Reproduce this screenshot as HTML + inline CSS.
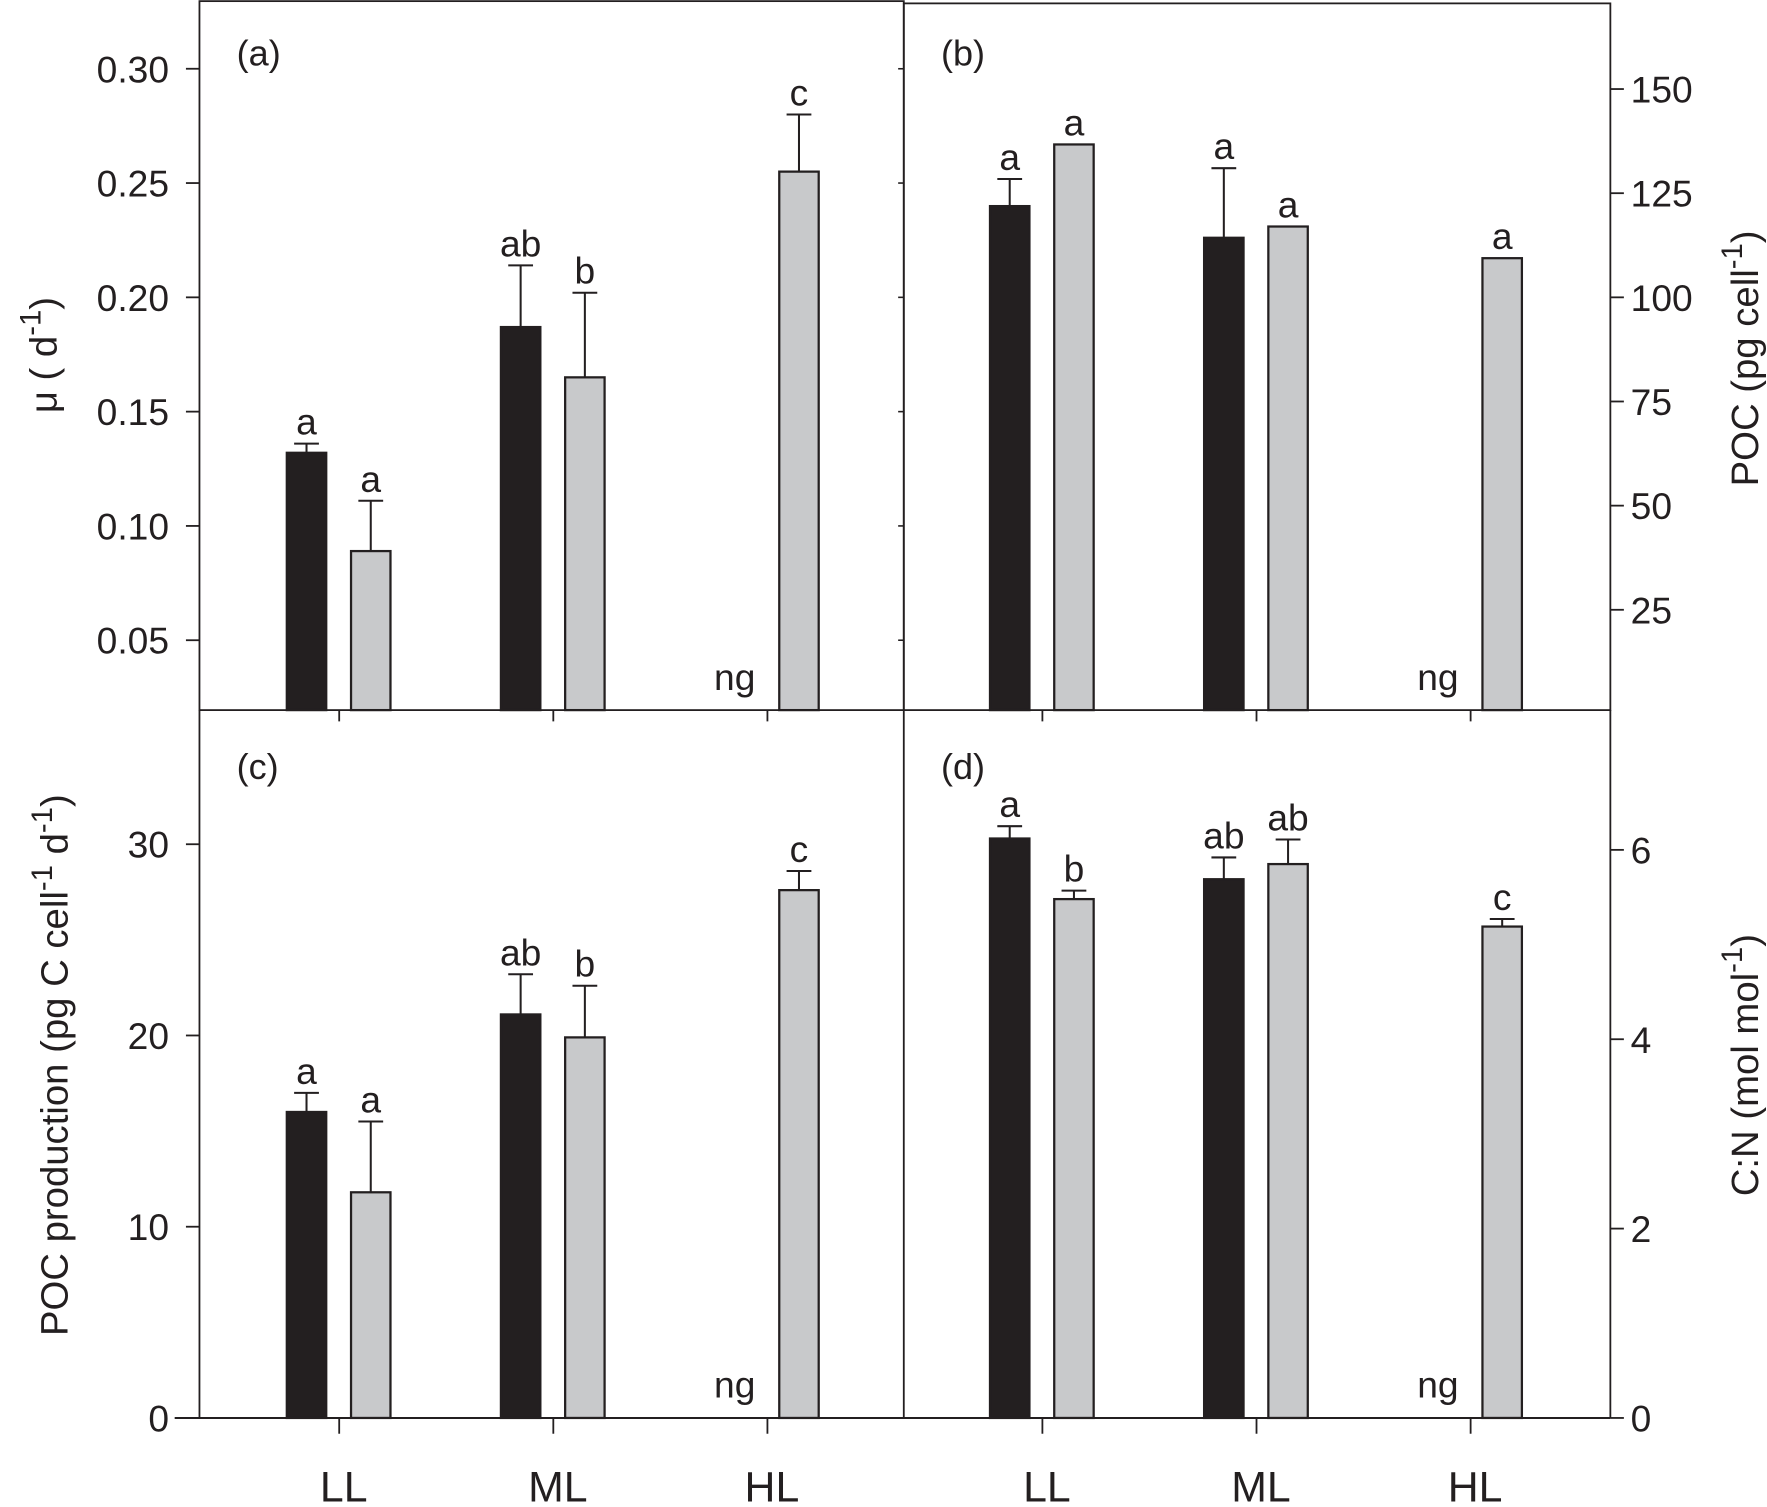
<!DOCTYPE html>
<html><head><meta charset="utf-8"><style>
html,body{margin:0;padding:0;background:#fff;}
svg{display:block;}
text{font-family:"Liberation Sans",Arial,sans-serif;fill:#231f20;}
</style></head><body>
<svg id="chart" width="1767" height="1507" viewBox="0 0 1568 1337" preserveAspectRatio="none" xmlns="http://www.w3.org/2000/svg">
<g id="g"></g>
</svg>
<script>
const categories = ["LL","ML","HL"];
// panel a: growth rate
const aBlack = [0.132, 0.187, null];
const aBlackErr = [0.136, 0.214, null];
const aGray = [0.089, 0.165, 0.255];
const aGrayErr = [0.111, 0.202, 0.280];
const aBlackLet = ["a","ab","ng"];
const aGrayLet = ["a","b","c"];
const aTicks = [0.05,0.10,0.15,0.20,0.25,0.30];
// panel b: POC
const bBlack = [121.9, 114.3, null];
const bBlackErr = [128.4, 131.0, null];
const bGray = [136.7, 117.0, 109.4];
const bGrayErr = [136.7, 117.0, 109.4];
const bBlackLet = ["a","a","ng"];
const bGrayLet = ["a","a","a"];
const bTicks = [25,50,75,100,125,150];
// panel c: POC production
const cBlack = [16.0, 21.1, null];
const cBlackErr = [17.0, 23.2, null];
const cGray = [11.8, 19.9, 27.6];
const cGrayErr = [15.5, 22.6, 28.6];
const cBlackLet = ["a","ab","ng"];
const cGrayLet = ["a","b","c"];
const cTicks = [0,10,20,30];
// panel d: C:N
const dBlack = [6.12, 5.69, null];
const dBlackErr = [6.25, 5.92, null];
const dGray = [5.48, 5.85, 5.19];
const dGrayErr = [5.57, 6.11, 5.27];
const dBlackLet = ["a","ab","ng"];
const dGrayLet = ["b","ab","c"];
const dTicks = [0,2,4,6];

const NS="http://www.w3.org/2000/svg";
const G=document.getElementById('g');
function mk(tag,attrs,txt){const e=document.createElementNS(NS,tag);for(const k in attrs)e.setAttribute(k,attrs[k]);if(txt!==undefined)e.textContent=txt;G.appendChild(e);return e;}

let f;
f=mk('rect',{x:177,y:1,width:625,height:629,fill:'none',stroke:'#231f20','stroke-width':1.6});


f=mk('rect',{x:802,y:3,width:627,height:627,fill:'none',stroke:'#231f20','stroke-width':1.6});


f=mk('line',{x1:177,y1:630,x2:177,y2:1258,stroke:'#231f20','stroke-width':1.6});


f=mk('line',{x1:802,y1:630,x2:802,y2:1258,stroke:'#231f20','stroke-width':1.6});


f=mk('line',{x1:1429,y1:630,x2:1429,y2:1258,stroke:'#231f20','stroke-width':1.6});


f=mk('line',{x1:155,y1:1258,x2:1429,y2:1258,stroke:'#231f20','stroke-width':1.8});



function panel(p){
  const y=v=>p.y0 - (v-p.v0)*p.k;
  p.ticks.forEach(t=>{
    const yy=y(t);
    let l;
    if(p.side==='left'){
      l=mk('line',{x1:165,y1:yy,x2:177,y2:yy,stroke:'#231f20','stroke-width':1.6});
      
      
      if(p.inner){const l2=mk('line',{x1:797,y1:yy,x2:802,y2:yy,stroke:'#231f20','stroke-width':1.4});
        
        }
      const tx=mk('text',{x:150,y:yy+12,'font-size':33,'text-anchor':'end'},p.fmt(t));
      
      
    } else {
      l=mk('line',{x1:1429,y1:yy,x2:1441,y2:yy,stroke:'#231f20','stroke-width':1.6});
      
      
      const tx=mk('text',{x:1447,y:yy+12,'font-size':33,'text-anchor':'start'},p.fmt(t));
      
      
    }
  });
  categories.forEach((c,i)=>{
    const cx=p.x0+i*190;
    if(p.xtick){const t=mk('line',{x1:cx,y1:p.base,x2:cx,y2:p.base+(p.base>1000?14:10),stroke:'#231f20','stroke-width':1.6});
      
      }
    [[p.black,p.blackErr,p.blackLet,-29,'#231f20','black'],[p.gray,p.grayErr,p.grayLet,28,'#c8c9cb','gray']].forEach(s=>{
      const v=s[0][i], bx=cx+s[3];
      if(v===null){
        const ng=mk('text',{x:bx,y:p.base-18,'font-size':33,'text-anchor':'middle'},'ng');
        
        
        return;
      }
      const top=y(v);
      const r=mk('rect',{x:bx-17.5,y:top,width:35,height:p.base-top,fill:s[4],stroke:'#231f20','stroke-width':2});
      
      
      const e=s[1][i], ey=y(e);
      if(e>v+1e-9){
        const el=mk('line',{x1:bx,y1:top,x2:bx,y2:ey,stroke:'#231f20','stroke-width':1.8});
        
        
        const ec=mk('line',{x1:bx-11,y1:ey,x2:bx+11,y2:ey,stroke:'#231f20','stroke-width':1.8});
        
        
      }
      const lt=mk('text',{x:bx,y:Math.min(ey,top)-8,'font-size':33,'text-anchor':'middle'},s[2][i]);
      
      
    });
  });
}
panel({id:'panel-a',side:'left',inner:true,y0:568,v0:0.05,k:(568-61)/0.25,ticks:aTicks,fmt:t=>t.toFixed(2),x0:301,base:630,xtick:true,
  black:aBlack,blackErr:aBlackErr,gray:aGray,grayErr:aGrayErr,blackLet:aBlackLet,grayLet:aGrayLet});
panel({id:'panel-b',side:'right',y0:541,v0:25,k:(541-79)/125,ticks:bTicks,fmt:t=>String(t),x0:925,base:630,xtick:true,
  black:bBlack,blackErr:bBlackErr,gray:bGray,grayErr:bGrayErr,blackLet:bBlackLet,grayLet:bGrayLet});
panel({id:'panel-c',side:'left',y0:1258,v0:0,k:(1258-749)/30,ticks:cTicks,fmt:t=>String(t),x0:301,base:1258,xtick:true,
  black:cBlack,blackErr:cBlackErr,gray:cGray,grayErr:cGrayErr,blackLet:cBlackLet,grayLet:cGrayLet});
panel({id:'panel-d',side:'right',y0:1258,v0:0,k:(1258-754)/6,ticks:dTicks,fmt:t=>String(t),x0:925,base:1258,xtick:true,
  black:dBlack,blackErr:dBlackErr,gray:dGray,grayErr:dGrayErr,blackLet:dBlackLet,grayLet:dGrayLet});

[['(a)',210,58],['(b)',835,58],['(c)',210,691],['(d)',835,691]].forEach(a=>{
  const t=mk('text',{x:a[1],y:a[2],'font-size':32},a[0]);
  
  
});
categories.forEach((c,i)=>{
  [301,925].forEach(x0=>{
    const t=mk('text',{x:x0+i*190+4,y:1332,'font-size':38,'text-anchor':'middle'},c);
    
    
  });
});
</script>
<svg style="position:absolute;left:0;top:0" width="1767" height="1507" viewBox="0 0 1568 1337" preserveAspectRatio="none" xmlns="http://www.w3.org/2000/svg">
<text transform="translate(50,315) rotate(-90)" font-size="34" text-anchor="middle">μ ( d<tspan dy="-14" font-size="26">-1</tspan><tspan dy="14">)</tspan></text>
<text transform="translate(60,945) rotate(-90)" font-size="34" text-anchor="middle">POC production (pg C cell<tspan dy="-14" font-size="26">-1</tspan><tspan dy="14"> d</tspan><tspan dy="-14" font-size="26">-1</tspan><tspan dy="14">)</tspan></text>
<text transform="translate(1560,318) rotate(-90)" font-size="34" text-anchor="middle">POC (pg cell<tspan dy="-14" font-size="26">-1</tspan><tspan dy="14">)</tspan></text>
<text transform="translate(1560,945) rotate(-90)" font-size="34" text-anchor="middle">C:N (mol mol<tspan dy="-14" font-size="26">-1</tspan><tspan dy="14">)</tspan></text>
</svg>
</body></html>
